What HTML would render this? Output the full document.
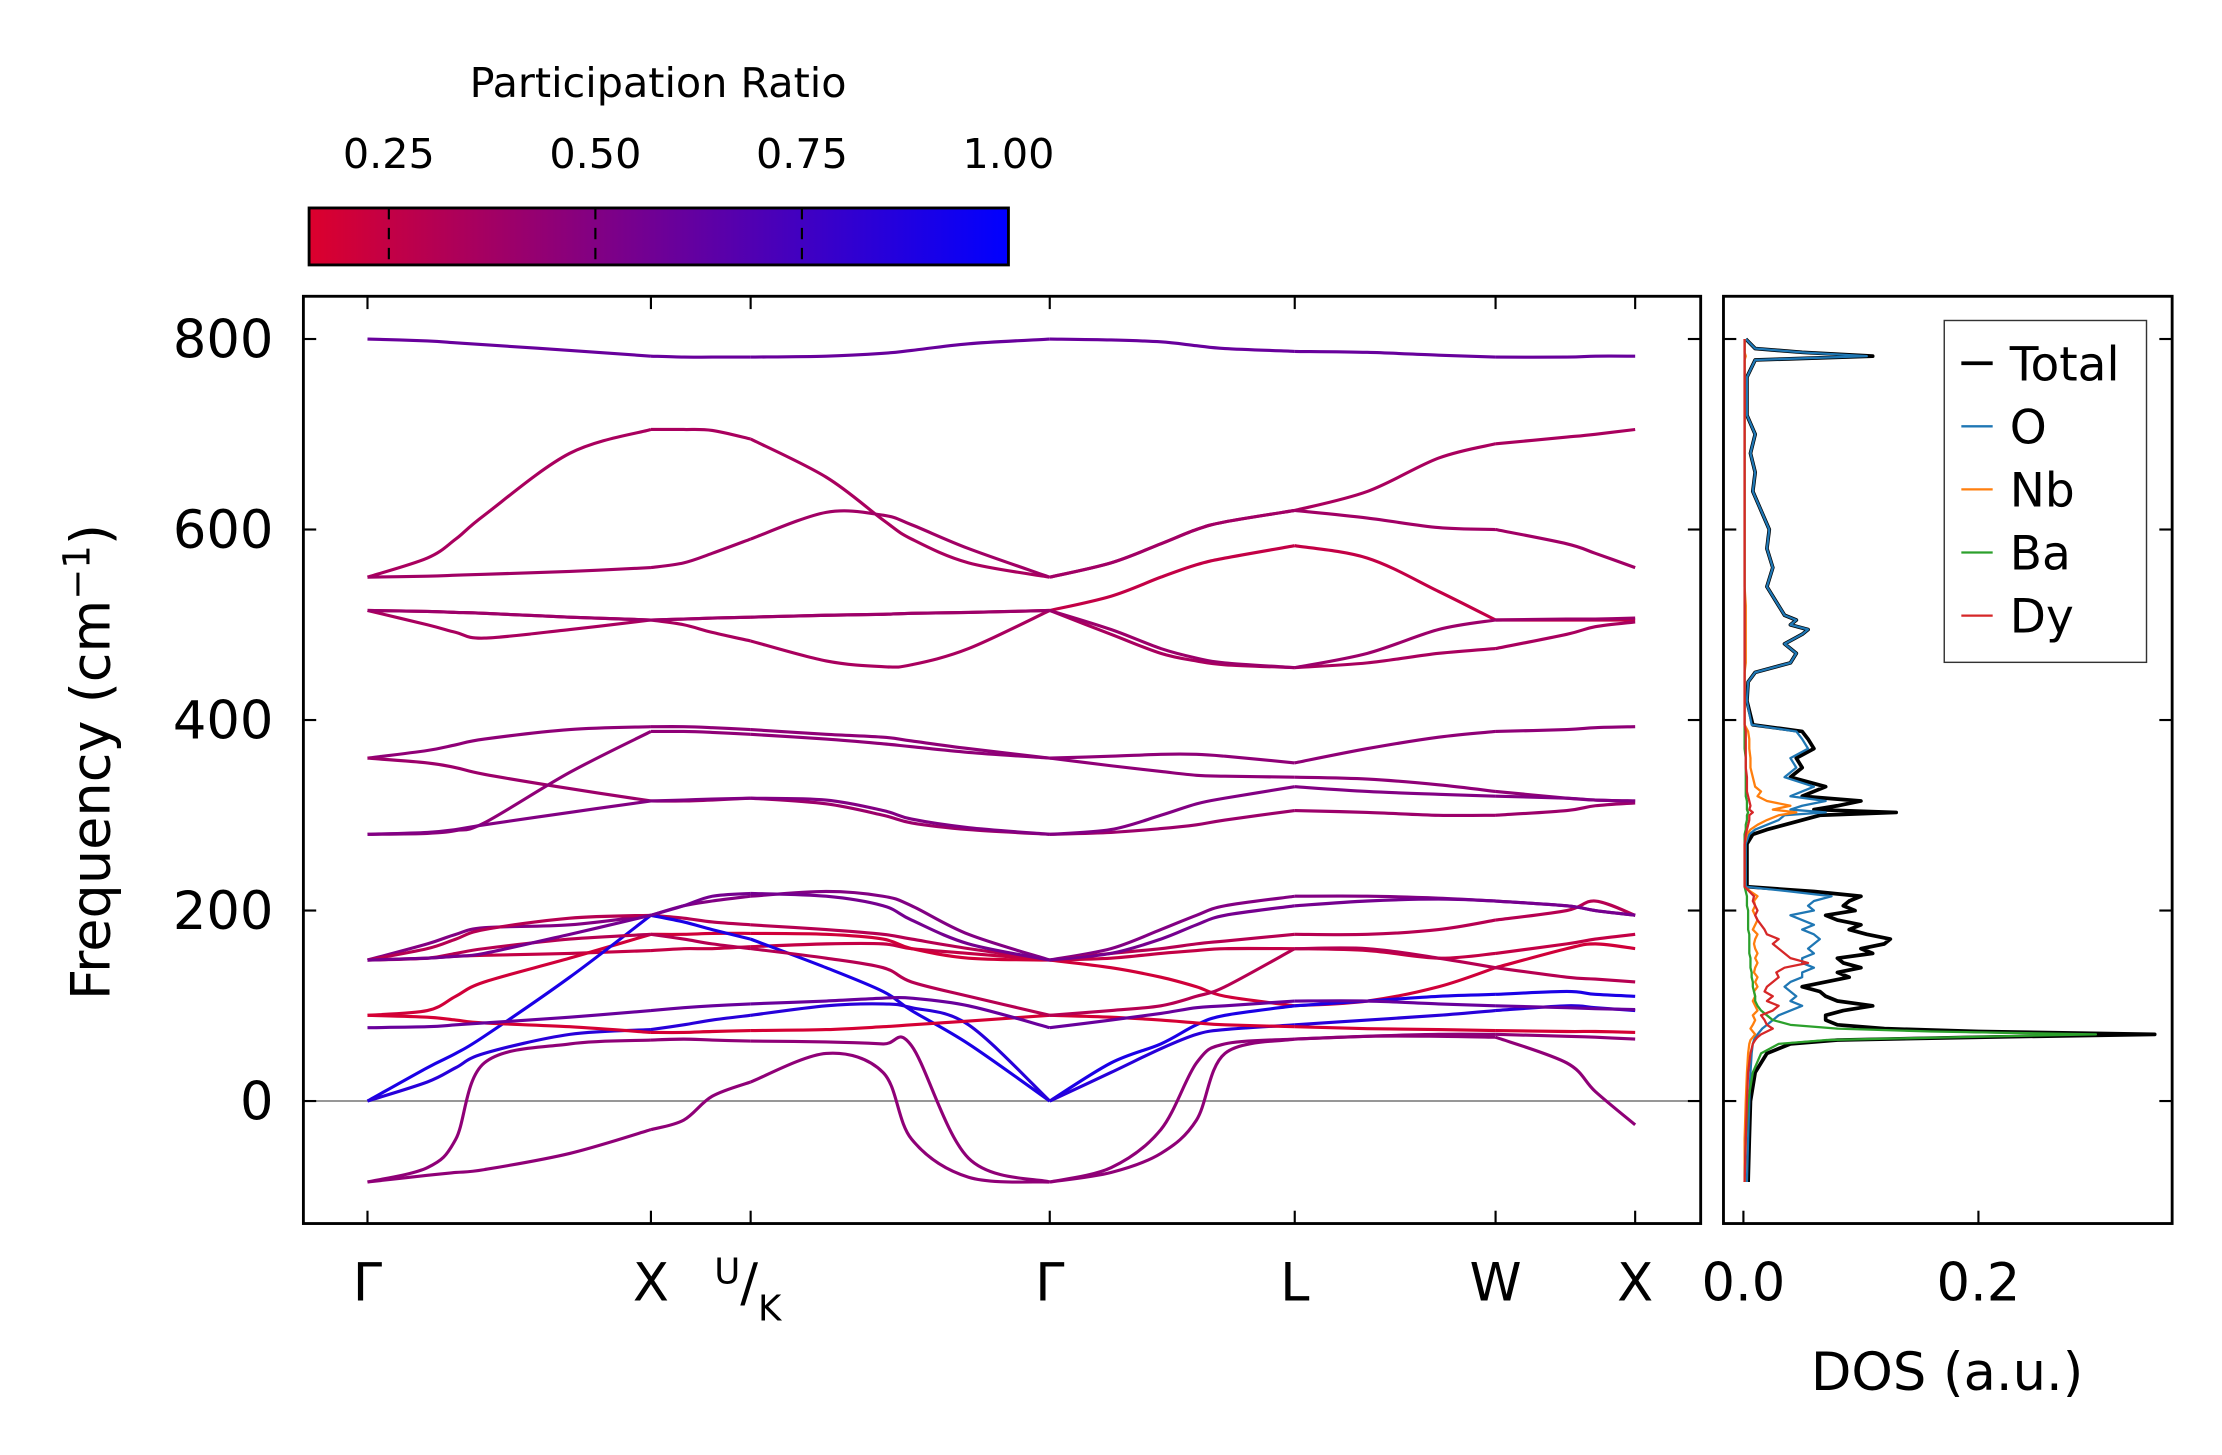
<!DOCTYPE html>
<html><head><meta charset="utf-8">
<style>
html,body{margin:0;padding:0;background:#fff;}
svg{display:block;font-family:"DejaVu Sans","Liberation Sans",sans-serif;}
</style></head>
<body>
<svg id="fig" width="2222" height="1455" viewBox="0 0 1560 1021.5" xmlns="http://www.w3.org/2000/svg">
<defs>
<linearGradient id="cmap" x1="0" x2="1" y1="0" y2="0">
<stop offset="0" stop-color="rgb(220,0,45)"/>
<stop offset="1" stop-color="rgb(0,0,255)"/>
</linearGradient>
<clipPath id="mainclip"><rect x="213" y="208" width="981" height="651"/></clipPath>
<clipPath id="dosclip"><rect x="1210" y="208" width="315" height="651"/></clipPath>
</defs>
<g>
<text x="462" y="68" font-size="29" text-anchor="middle">Participation Ratio</text>
<rect x="217" y="146" width="491" height="40" fill="url(#cmap)" stroke="#000" stroke-width="2"/>
<g id="cbticks"></g>
</g>
<g>
<line x1="213" x2="1194" y1="773" y2="773" stroke="#888" stroke-width="1.2"/>
<g id="bands" clip-path="url(#mainclip)"></g>
<rect x="213" y="208" width="981" height="651" fill="none" stroke="#000" stroke-width="2"/>
<g id="mainticks"></g>
<text transform="translate(77,535) rotate(-90)" font-size="38" text-anchor="middle">Frequency (cm<tspan dy="-14" font-size="26">−1</tspan><tspan dy="14">)</tspan></text>
</g>
<g>
<g id="dos" clip-path="url(#dosclip)"></g>
<rect x="1210" y="208" width="315" height="651" fill="none" stroke="#000" stroke-width="2"/>
<g id="dosticks"></g>
<text x="1367" y="976" font-size="37" text-anchor="middle">DOS (a.u.)</text>
<g>
<rect x="1365" y="225" width="142" height="240" fill="#fff" stroke="#333" stroke-width="1"/>
<g id="legend"></g>
</g>
</g>
</svg>
<script>
// ---------- data ----------
const kTicks = [0, 1.99, 2.69, 4.79, 6.51, 7.92, 8.90];
const kTickLabels = ["Γ", "X", "U/K", "Γ", "L", "W", "X"];
const kGrid = [0,0.42,0.62,0.82,1.42,1.99,2.22,2.42,2.69,3.22,3.62,3.82,4.22,4.79,5.22,5.57,5.82,6.02,6.51,7.02,7.52,7.92,8.42,8.62,8.90];
const freqTicks = [0, 200, 400, 600, 800];
const cbTicks = [0.25, 0.50, 0.75, 1.00];
const bandT  = [800,798,796,794,788,782,781,781,781,782,785,788,795,800,799,797,793,790,787,786,783,781,781,782,782];
const bandB1 = [550,570,590,615,680,705,705,704,695,655,610,590,565,550,565,585,600,608,620,640,675,690,697,700,705];
const bandB2 = [550,551,552,553,556,560,565,575,590,618,615,605,580,550,565,585,600,608,620,612,602,600,585,575,560];
const bandB3 = [515,514,513,512,508,505,506,507,508,510,511,512,513,515,530,550,563,570,583,570,535,505,505,505,505];
const bandB4 = [515,500,492,486,495,505,500,492,483,462,456,458,475,515,490,470,462,458,455,460,470,475,490,498,503];
const bandB5 = [515,514,513,512,508,505,506,507,508,510,511,512,513,515,495,475,465,460,455,470,495,505,506,506,507];
const bandM1 = [360,368,374,380,390,393,393,392,390,385,382,378,370,360,362,364,364,362,355,370,382,388,390,392,393];
const bandM2 = [360,355,350,343,328,315,315,316,318,312,300,292,285,280,282,286,290,295,305,303,300,300,305,310,313];
const bandM3 = [280,281,284,292,345,388,388,387,385,380,375,372,366,360,352,346,342,341,340,338,332,325,318,316,315];
const bandM4 = [280,282,285,290,303,315,316,317,318,316,305,296,287,280,285,300,312,318,330,325,322,320,318,316,315];
const bandL1 = [148,165,175,182,185,195,205,210,215,220,215,205,175,148,160,180,195,205,215,215,213,210,205,200,195];
const bandL2 = [148,160,170,180,192,195,192,188,185,180,175,170,160,148,155,160,165,168,175,175,180,190,200,210,195];
const bandL3 = [148,150,152,153,155,158,160,160,162,165,165,160,155,148,150,155,158,160,160,158,150,155,165,170,175];
const bandL4 = [90,95,110,125,150,175,175,176,176,175,170,160,150,148,140,130,120,110,100,105,120,140,160,165,160];
const bandL5 = [0,35,50,68,130,195,188,180,170,140,115,95,60,0,40,60,80,90,100,105,110,112,115,112,110];
const bandL6 = [0,20,35,50,70,75,80,85,90,100,102,98,80,0,30,55,70,75,80,85,90,95,100,98,95];
const bandL7 = [-85,-78,-75,-72,-55,-30,-20,5,20,50,30,-40,-80,-85,-70,-30,40,60,65,68,68,67,40,10,-25];
const bandL8 = [-85,-70,-40,40,60,64,65,64,63,62,60,58,-60,-85,-75,-55,-20,50,65,68,70,70,68,67,65];
const bandL9 = [90,88,85,82,78,72,72,73,74,75,78,80,84,90,88,85,82,80,78,76,75,74,73,73,72];
const bandL10= [77,78,80,82,88,95,98,100,102,105,108,108,100,77,85,92,98,100,105,105,102,100,98,97,96];
const bandL11= [148,150,155,160,170,175,170,165,160,150,140,125,110,90,95,100,110,120,160,160,150,140,130,128,125];
const bandL12= [148,150,152,155,175,195,205,215,218,215,205,190,165,148,155,170,185,195,205,210,212,210,205,200,195];
const bandList = [bandT,bandB1,bandB2,bandB3,bandB4,bandB5,bandM1,bandM2,bandM3,bandM4,bandL1,bandL2,bandL3,bandL4,bandL5,bandL6,bandL7,bandL8,bandL9,bandL10,bandL11,bandL12];
const bandPR = [0.6,0.35,0.38,0.25,0.35,0.4,0.45,0.4,0.45,0.5,0.5,0.3,0.25,0.2,0.9,0.85,0.45,0.45,0.18,0.6,0.3,0.55];

const dosFreq = [-85,-40,0,30,50,60,64,67,70,73,
 76,80,85,90,95,100,105,110,115,120,
 125,130,135,140,145,150,155,160,165,170,
 175,180,185,190,195,200,205,210,215,220,
 225,270,280,285,290,295,300,303,306,310,
 315,320,325,330,340,350,360,370,380,388,
 395,420,440,450,460,470,480,490,495,500,
 505,510,520,540,560,580,600,620,640,660,
 680,700,720,760,778,782,786,790,800];
const dosTotal = [.004,.005,.006,.01,.02,.04,.08,.20,.35,.2,
 .12,.08,.07,.07,.085,.11,.08,.07,.065,.05,
 .07,.09,.08,.1,.085,.08,.11,.1,.12,.125,
 .105,.09,.1,.08,.07,.095,.085,.09,.1,.06,
 .003,.003,.008,.02,.035,.05,.065,.13,.06,.08,
 .1,.05,.06,.07,.04,.05,.045,.06,.055,.05,
 .008,.003,.004,.01,.04,.045,.035,.05,.055,.04,
 .045,.035,.03,.02,.025,.02,.022,.015,.008,.01,
 .006,.01,.003,.003,.01,.11,.05,.01,.002];
const dosO = [.003,.004,.005,.006,.007,.008,.009,.01,.012,.014,
 .016,.02,.025,.03,.04,.05,.04,.045,.04,.035,
 .04,.05,.05,.06,.05,.05,.06,.055,.06,.065,
 .06,.05,.06,.05,.04,.06,.055,.06,.075,.04,
 .002,.002,.005,.01,.02,.03,.035,.07,.04,.05,
 .07,.04,.05,.06,.035,.045,.04,.055,.05,.045,
 .007,.003,.004,.01,.04,.045,.035,.05,.055,.04,
 .045,.035,.03,.02,.025,.02,.022,.015,.008,.01,
 .006,.01,.003,.003,.01,.105,.05,.01,.002];
const dosNb = [.001,.001,.002,.003,.004,.005,.006,.008,.01,.008,
 .006,.008,.01,.008,.012,.01,.008,.01,.009,.012,
 .01,.012,.009,.01,.012,.01,.012,.01,.009,.01,
 .012,.008,.01,.012,.01,.008,.01,.009,.012,.006,
 .001,.001,.003,.006,.012,.02,.03,.045,.025,.04,
 .02,.012,.015,.01,.008,.006,.006,.005,.005,.004,
 .001,.001,.001,.001,.002,.002,.002,.002,.002,.002,
 .002,.002,.002,.001,.001,.001,.001,.001,.001,.001,
 .001,.001,.001,.001,.001,.002,.001,.001,.001];
const dosBa = [.001,.002,.004,.008,.015,.03,.07,.18,.30,.16,
 .08,.04,.025,.02,.015,.012,.01,.01,.009,.008,
 .008,.007,.007,.006,.006,.006,.005,.005,.005,.005,
 .005,.004,.004,.004,.004,.004,.003,.003,.003,.002,
 .001,.001,.001,.002,.002,.003,.003,.004,.003,.003,
 .003,.002,.002,.002,.002,.002,.002,.001,.001,.001,
 .001,.001,.001,.001,.001,.001,.001,.001,.001,.001,
 .001,.001,.001,.001,.001,.001,.001,.001,.001,.001,
 .001,.001,.001,.001,.001,.001,.001,.001,.001];
const dosDy = [.001,.002,.003,.004,.006,.008,.01,.012,.015,.02,
 .025,.02,.018,.015,.025,.03,.02,.025,.018,.02,
 .025,.03,.028,.035,.055,.04,.035,.03,.025,.03,
 .02,.018,.015,.012,.01,.012,.01,.008,.009,.005,
 .001,.001,.002,.003,.004,.005,.005,.008,.005,.006,
 .005,.004,.003,.003,.003,.002,.002,.002,.002,.002,
 .001,.001,.001,.001,.001,.001,.001,.001,.001,.001,
 .001,.001,.001,.001,.001,.001,.001,.001,.001,.001,
 .001,.001,.001,.001,.001,.001,.001,.001,.001];
const dosTicks = [0.0, 0.2];

// ---------- scales ----------
const NS = "http://www.w3.org/2000/svg";
function xK(k){ return 258 + k * (1148 - 258) / 8.90; }
function yF(f){ return 773 - f * (773 - 238) / 800; }
function xD(d){ return 1224 + d * (1389 - 1224) / 0.2; }
function xCB(p){ return 273 + (p - 0.25) * (708 - 273) / 0.75; }
function prColor(p){
  const t = Math.max(0, Math.min(1, (p - 0.153) / 0.847));
  return "rgb(" + Math.round(220*(1-t)) + ",0," + Math.round(45 + 210*t) + ")";
}
function mk(tag, attrs, parent){
  const e = document.createElementNS(NS, tag);
  for (const a in attrs) e.setAttribute(a, attrs[a]);
  parent.appendChild(e);
  return e;
}
function smoothPath(pts){
  let d = "M" + pts[0][0].toFixed(2) + "," + pts[0][1].toFixed(2);
  for (let i = 0; i < pts.length - 1; i++){
    const p0 = pts[Math.max(0,i-1)], p1 = pts[i], p2 = pts[i+1], p3 = pts[Math.min(pts.length-1,i+2)];
    const c1x = p1[0] + (p2[0]-p0[0])/6, c1y = p1[1] + (p2[1]-p0[1])/6;
    const c2x = p2[0] - (p3[0]-p1[0])/6, c2y = p2[1] - (p3[1]-p1[1])/6;
    d += " C" + c1x.toFixed(2)+","+c1y.toFixed(2)+" "+c2x.toFixed(2)+","+c2y.toFixed(2)+" "+p2[0].toFixed(2)+","+p2[1].toFixed(2);
  }
  return d;
}

// ---------- colorbar ticks ----------
const cbG = document.getElementById("cbticks");
cbTicks.forEach(function(v, i){
  const x = xCB(v);
  if (v < 1) {
    const t = mk("line", {x1:x, x2:x, y1:146, y2:186, stroke:"#000", "stroke-width":1.5, "stroke-dasharray":"8,6"}, cbG);
    
    
  }
  const l = mk("text", {x:x, y:118, "font-size":29, "text-anchor":"middle"}, cbG);
  l.textContent = v.toFixed(2);
  
  
});

// ---------- bands ----------
const bG = document.getElementById("bands");
bandList.forEach(function(band, bi){
  const pts = band.map(function(f, i){ return [xK(kGrid[i]), yF(f)]; });
  const breaks = [0,5,8,13,18,21,24];
  for (let s = 0; s < breaks.length - 1; s++){
    const seg = pts.slice(breaks[s], breaks[s+1] + 1);
    const p = mk("path", {d: smoothPath(seg), fill:"none", stroke: prColor(bandPR[bi]), "stroke-width":2.2, "stroke-linejoin":"round"}, bG);
    
    
  }
});

// ---------- main ticks ----------
const mt = document.getElementById("mainticks");
kTicks.forEach(function(k, i){
  const x = xK(k);
  const b = mk("line", {x1:x, x2:x, y1:859, y2:850, stroke:"#000", "stroke-width":1.5}, mt);
  
  
  const t = mk("line", {x1:x, x2:x, y1:208, y2:217, stroke:"#000", "stroke-width":1.5}, mt);
  
  
  const lab = mk("text", {x:x, y:913, "font-size":37, "text-anchor":"middle"}, mt);
  
  
  if (kTickLabels[i] === "U/K") {
    lab.setAttribute("x", x - 2);
    const u = mk("tspan", {"font-size":25, dy:-12}, lab); u.textContent = "U";
    const s = mk("tspan", {"font-size":37, dy:12}, lab); s.textContent = "/";
    const kk = mk("tspan", {"font-size":25, dy:14}, lab); kk.textContent = "K";
  } else {
    lab.textContent = kTickLabels[i];
  }
});
freqTicks.forEach(function(f){
  const y = yF(f);
  const l = mk("line", {x1:213, x2:222, y1:y, y2:y, stroke:"#000", "stroke-width":1.5}, mt);
  
  
  const r = mk("line", {x1:1194, x2:1185, y1:y, y2:y, stroke:"#000", "stroke-width":1.5}, mt);
  
  
  const t = mk("text", {x:192, y:y + 13, "font-size":37, "text-anchor":"end"}, mt);
  t.textContent = String(f);
  
  
});

// ---------- DOS ----------
const dG = document.getElementById("dos");
const dosSeries = [
  {name:"Total", vals:dosTotal, color:"#000", w:2.6},
  {name:"O", vals:dosO, color:"#1f77b4", w:1.6},
  {name:"Nb", vals:dosNb, color:"#ff7f0e", w:1.6},
  {name:"Ba", vals:dosBa, color:"#2ca02c", w:1.6},
  {name:"Dy", vals:dosDy, color:"#d62728", w:1.6}
];
dosSeries.forEach(function(s){
  let d = "";
  s.vals.forEach(function(v, i){
    d += (i ? "L" : "M") + xD(v).toFixed(2) + "," + yF(dosFreq[i]).toFixed(2);
  });
  const p = mk("path", {d:d, fill:"none", stroke:s.color, "stroke-width":s.w, "stroke-linejoin":"round"}, dG);
  
  
});
const dt = document.getElementById("dosticks");
dosTicks.forEach(function(v){
  const x = xD(v);
  const l = mk("line", {x1:x, x2:x, y1:859, y2:850, stroke:"#000", "stroke-width":1.5}, dt);
  
  
  const t = mk("text", {x:x, y:913, "font-size":37, "text-anchor":"middle"}, dt);
  t.textContent = v.toFixed(1);
  
  
});
freqTicks.forEach(function(f){
  const y = yF(f);
  const l = mk("line", {x1:1210, x2:1219, y1:y, y2:y, stroke:"#000", "stroke-width":1.5}, dt);
  
  
  const r = mk("line", {x1:1525, x2:1516, y1:y, y2:y, stroke:"#000", "stroke-width":1.5}, dt);
  
  
});

// ---------- legend ----------
const lg = document.getElementById("legend");
dosSeries.forEach(function(s, i){
  const y = 255 + i * 44.3;
  const l = mk("line", {x1:1377, x2:1399, y1:y, y2:y, stroke:s.color, "stroke-width":s.w}, lg);
  
  
  const t = mk("text", {x:1411, y:y + 12, "font-size":33}, lg);
  t.textContent = s.name;
  
  
});
</script>
</body></html>
